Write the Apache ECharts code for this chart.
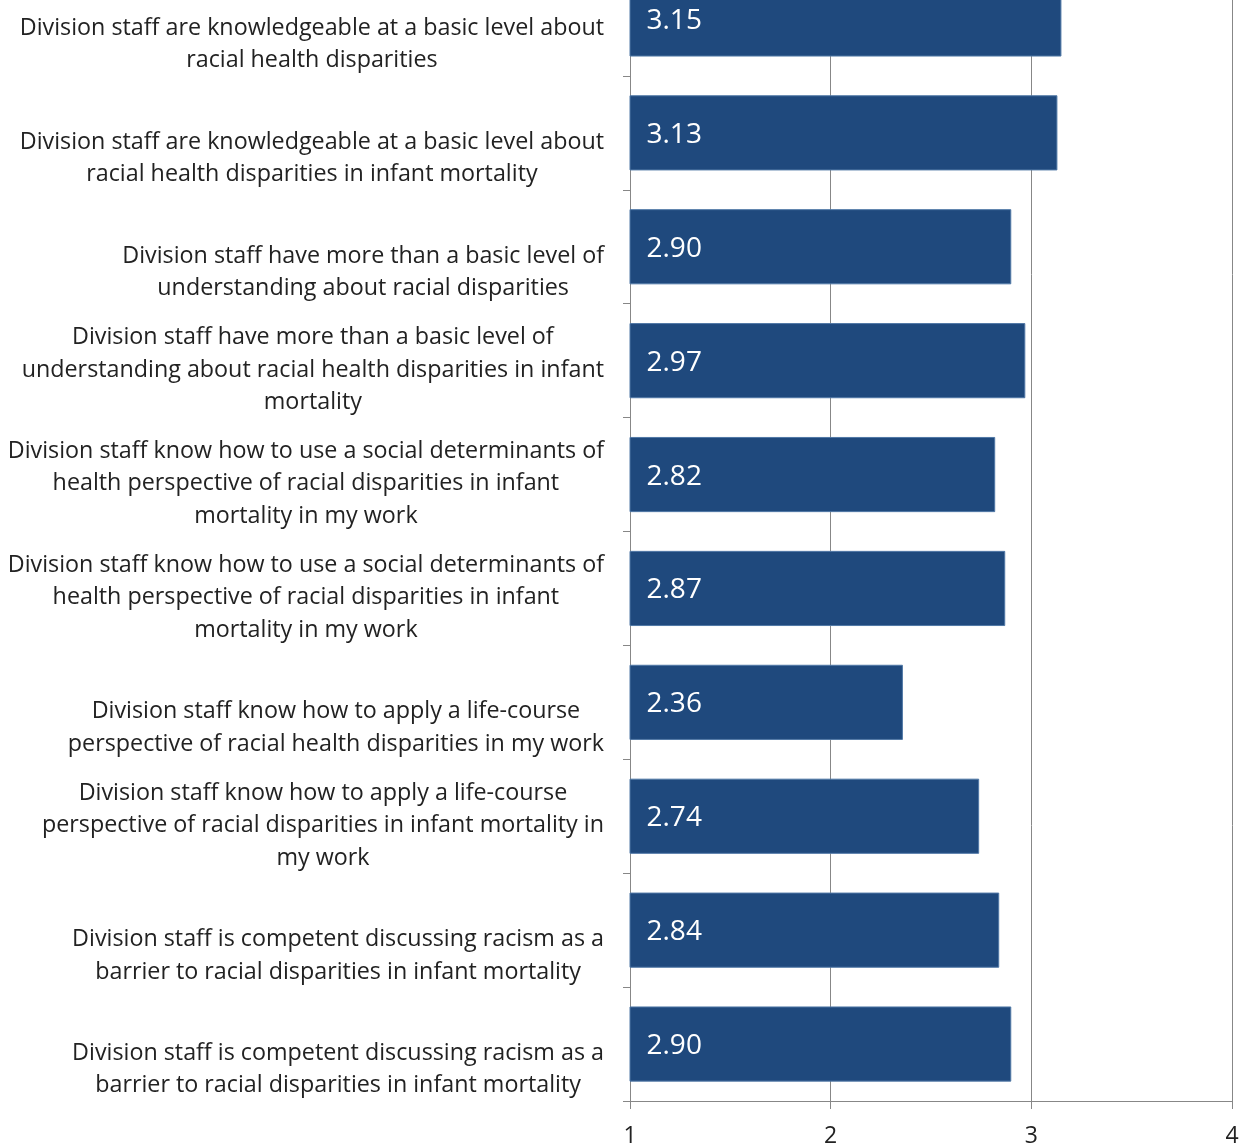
<!DOCTYPE html>
<html>
<head>
<meta charset="utf-8">
<style>
  html, body { margin: 0; padding: 0; background: #ffffff; }
  #chart { width: 1248px; height: 1145px; }
</style>
<script src="https://cdn.jsdelivr.net/npm/echarts@6/dist/echarts.min.js"></script>
</head>
<body>
<div id="chart"></div>
<script>
// Survey statements (top to bottom), with the line breaks used on the axis
const statements = [
  'Division staff are knowledgeable at a basic level about\nracial health disparities',
  'Division staff are knowledgeable at a basic level about\nracial health disparities in infant mortality',
  'Division staff have more than a basic level of\nunderstanding about racial disparities',
  'Division staff have more than a basic level of\nunderstanding about racial health disparities in infant\nmortality',
  'Division staff know how to use a social determinants of\nhealth perspective of racial disparities in infant\nmortality in my work',
  'Division staff know how to use a social determinants of\nhealth perspective of racial disparities in infant\nmortality in my work',
  'Division staff know how to apply a life-course\nperspective of racial health disparities in my work',
  'Division staff know how to apply a life-course\nperspective of racial disparities in infant mortality in\nmy work',
  'Division staff is competent discussing racism as a\nbarrier to racial disparities in infant mortality',
  'Division staff is competent discussing racism as a\nbarrier to racial disparities in infant mortality'
];

// Mean rating for each statement
const meanScores = [3.15, 3.13, 2.90, 2.97, 2.82, 2.87, 2.36, 2.74, 2.84, 2.90];

// Rating scale shown on the value axis
const scaleMin = 1;
const scaleMax = 4;
const scaleStep = 1;

const FONT = '"Open Sans", sans-serif';
const AXIS_GREY = '#878787';
const BAR_BLUE = '#1f497d';

const chart = echarts.init(document.getElementById('chart'), null, { renderer: 'canvas' });

chart.setOption({
  animation: false,
  backgroundColor: '#ffffff',
  grid: {
    left: 630,
    right: 16,
    top: -38,
    bottom: 44,
    containLabel: false,
    outerBoundsMode: 'none'
  },
  xAxis: {
    type: 'value',
    min: scaleMin,
    max: scaleMax,
    interval: scaleStep,
    axisLine: { show: true, lineStyle: { color: AXIS_GREY, width: 1 } },
    axisTick: { show: true, length: 8, lineStyle: { color: AXIS_GREY } },
    splitLine: { show: true, lineStyle: { color: AXIS_GREY, width: 1 } },
    axisLabel: {
      margin: 24,
      fontFamily: FONT,
      fontSize: 23,
      color: '#222222'
    }
  },
  yAxis: {
    type: 'category',
    inverse: true,
    data: statements,
    axisLine: { show: true, lineStyle: { color: AXIS_GREY, width: 1 } },
    axisTick: { show: true, length: 7, lineStyle: { color: AXIS_GREY } },
    splitLine: { show: false },
    axisLabel: {
      interval: 0,
      margin: 26,
      align: 'right',
      verticalAlign: 'bottom',
      // lines sit at the bottom of each category band
      padding: [0, 0, -58, 0],
      formatter: function (value) {
        return value.split('\n').map(function (line) { return '{c|' + line + '}'; }).join('\n');
      },
      rich: {
        c: {
          align: 'center',
          fontFamily: FONT,
          fontSize: 23.3,
          lineHeight: 32.5,
          color: '#222222'
        }
      }
    }
  },
  series: [{
    type: 'bar',
    data: meanScores,
    barCategoryGap: '34%',
    itemStyle: { color: BAR_BLUE, borderColor: '#5078a6', borderWidth: 1 },
    label: {
      show: true,
      position: 'insideLeft',
      distance: 17,
      offset: [0, 2],
      color: '#ffffff',
      fontFamily: FONT,
      fontSize: 28,
      formatter: function (p) { return p.value.toFixed(2); }
    }
  }]
});
</script>
</body>
</html>
